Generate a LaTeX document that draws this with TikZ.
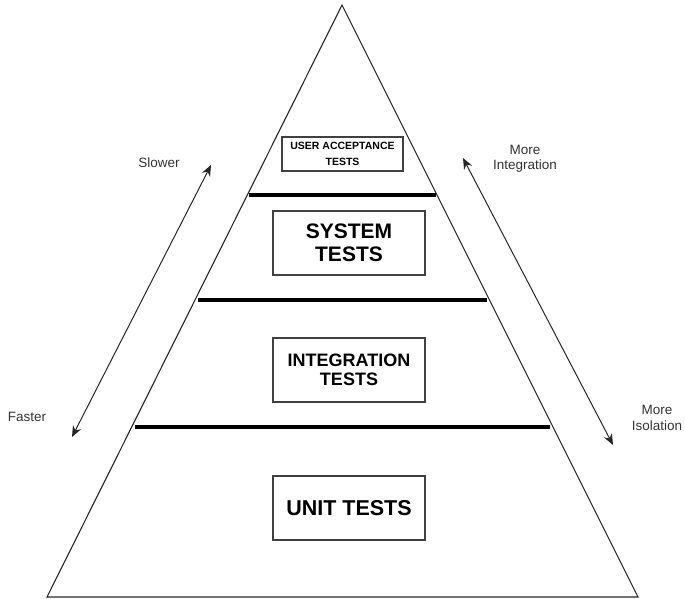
\documentclass[tikz,border=0pt]{standalone}
\usepackage{fontspec}
\setmainfont{Liberation Sans}
\usetikzlibrary{arrows.meta,calc}

\tikzset{
  outline/.style={draw=black!85, line width=1.1pt, line join=miter},
  levelbar/.style={draw=black, line width=3.6pt},
  levelbox/.style={draw=black!75, line width=1.1pt, fill=white, align=center,
                   font=\bfseries, inner sep=0pt},
  sidelabel/.style={text=black!80, font=\fontsize{13.5}{15.5}\selectfont, align=center, inner sep=0pt},
  scale arrow/.style={draw=black!85, line width=1pt,
                      {Stealth[length=11pt,width=9pt]}-{Stealth[length=11pt,width=9pt]}}
}

\begin{document}
\begin{tikzpicture}[x=1pt,y=-1pt]
  \useasboundingbox (0,0) rectangle (685,599);

  % pyramid outline
  \coordinate (apex) at (342,5);
  \coordinate (bl) at (47,597);
  \coordinate (br) at (638,597);
  \draw[outline] (apex) -- (bl) -- (br) -- cycle;

  % level separators
  \coordinate (b1l) at (249,195);  \coordinate (b1r) at (436,195);
  \coordinate (b2l) at (198,300);  \coordinate (b2r) at (487,300);
  \coordinate (b3l) at (135,427);  \coordinate (b3r) at (550,427);
  \draw[levelbar] (b1l) -- (b1r);
  \draw[levelbar] (b2l) -- (b2r);
  \draw[levelbar] (b3l) -- (b3r);

  % level boxes
  \node[levelbox, minimum width=121pt, minimum height=34pt,
        font=\bfseries\fontsize{10.5}{15.5}\selectfont] (uat) at (342.5,154)
        {USER ACCEPTANCE\\TESTS};
  \node[levelbox, minimum width=152pt, minimum height=64pt,
        font=\bfseries\fontsize{21}{22.5}\selectfont] (sys) at (349,243)
        {SYSTEM\\TESTS};
  \node[levelbox, minimum width=152pt, minimum height=64pt,
        font=\bfseries\fontsize{18}{19}\selectfont] (intg) at (349,370)
        {INTEGRATION\\TESTS};
  \node[levelbox, minimum width=152pt, minimum height=64pt,
        font=\bfseries\fontsize{21.5}{23}\selectfont] (unit) at (349,508)
        {UNIT TESTS};

  % speed scale on the left
  \coordinate (slowtip) at (211,165);
  \coordinate (fasttip) at (72,437);
  \draw[scale arrow] (fasttip) -- (slowtip);
  \node[sidelabel] (slower) at (159,163) {Slower};
  \node[sidelabel] (faster) at (27,417) {Faster};

  % isolation scale on the right
  \coordinate (integtip) at (463,158);
  \coordinate (isoltip) at (613,445);
  \draw[scale arrow] (integtip) -- (isoltip);
  \node[sidelabel] (moreint) at (525,159) {More\\Integration};
  \node[sidelabel] (moreiso) at (657,418) {More\\Isolation};
\end{tikzpicture}
\end{document}
